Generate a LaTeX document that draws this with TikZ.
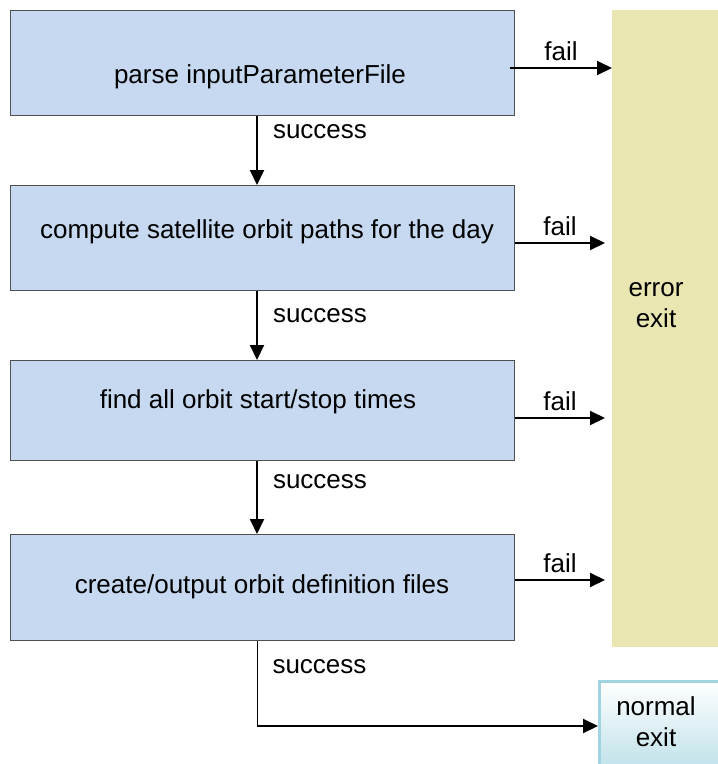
\documentclass[tikz,border=0pt]{standalone}
\usepackage{fontspec}
\setmainfont{Liberation Sans}
\usetikzlibrary{arrows.meta}
\definecolor{boxfill}{RGB}{198,217,240}
\definecolor{boxline}{RGB}{80,80,80}
\definecolor{errfill}{RGB}{233,230,177}
\definecolor{exitline}{RGB}{160,212,224}
\definecolor{exitbot}{RGB}{182,221,230}
\begin{document}
\begin{tikzpicture}[x=1pt,y=-1pt,
  procbox/.style={draw=boxline,line width=1pt,fill=boxfill,minimum width=504pt,minimum height=105pt,inner sep=0pt},
  boxtxt/.style={font=\fontsize{26}{31}\selectfont,text=black,inner sep=0pt},
  lbl/.style={font=\fontsize{26}{31}\selectfont,text=black,inner sep=0pt},
  flow/.style={line width=2pt,-{Triangle[length=15pt,width=14pt]}}]
\useasboundingbox (0,0) rectangle (718,764);
\clip (0,0) rectangle (718,764);
% error exit bar
\node[fill=errfill,minimum width=106pt,minimum height=637pt,inner sep=0pt,anchor=north west] (err) at (612,10) {};
\node[lbl,align=center] (errtxt) at (656,305) {error\\exit};
% normal exit box
\node[draw=exitline,line width=2.5pt,top color=white,bottom color=exitbot,minimum width=140pt,minimum height=100pt,inner sep=0pt,anchor=north west] (nexit) at (598,680) {};
\node[lbl,align=center] (nexittxt) at (656,722) {normal\\exit};
% process boxes
\node[procbox,anchor=north west] (b1) at (10,10) {};
\node[procbox,anchor=north west] (b2) at (10,185) {};
\node[procbox,anchor=north west,minimum height=100pt] (b3) at (10,360) {};
\node[procbox,anchor=north west,minimum height=106pt] (b4) at (10,534) {};
\node[boxtxt] (t1) at (260,77) {parse inputParameterFile};
\node[boxtxt] (t2) at (267,232) {compute satellite orbit paths for the day};
\node[boxtxt] (t3) at (258,402) {find all orbit start/stop times};
\node[boxtxt] (t4) at (262,587) {create/output orbit definition files};
% success arrows
\coordinate (s1) at (257,0);
\draw[flow] (b1.south -| s1) -- (b2.north -| s1) node[lbl,pos=0.22,anchor=west,xshift=15pt] {success};
\draw[flow] (b2.south -| s1) -- (b3.north -| s1) node[lbl,pos=0.35,anchor=west,xshift=15pt] {success};
\draw[flow] (b3.south -| s1) -- (b4.north -| s1) node[lbl,pos=0.28,anchor=west,xshift=15pt] {success};
\coordinate (corner) at (257,726);
\draw[line width=1pt] (b4.south -| s1) -- (corner) node[lbl,pos=0.3,anchor=west,xshift=15pt] {success};
\draw[flow] (corner) -- (nexit.west |- corner);
% fail arrows
\coordinate (f1s) at (510,68);
\draw[flow] (f1s) -- (err.west |- f1s) node[lbl,midway,above=6pt] {fail};
\coordinate (f2s) at (b2.east |- 0,243);
\coordinate (f2e) at (605,243);
\draw[flow] (f2s) -- (f2e) node[lbl,midway,above=6pt] {fail};
\coordinate (f3s) at (b3.east |- 0,418);
\coordinate (f3e) at (605,418);
\draw[flow] (f3s) -- (f3e) node[lbl,midway,above=6pt] {fail};
\coordinate (f4s) at (b4.east |- 0,580);
\coordinate (f4e) at (605,580);
\draw[flow] (f4s) -- (f4e) node[lbl,midway,above=6pt] {fail};
\end{tikzpicture}
\end{document}
